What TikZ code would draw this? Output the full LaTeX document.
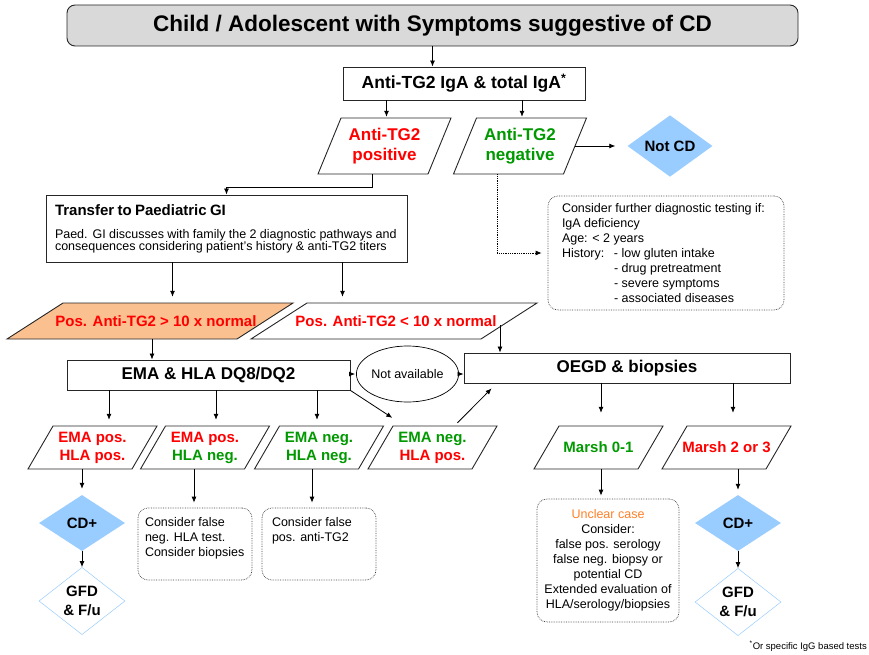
\documentclass[tikz,border=0pt]{standalone}
\usepackage{fontspec}
\setmainfont{Liberation Sans}
\usetikzlibrary{calc}
\usetikzlibrary{shapes.geometric,arrows.meta}

\definecolor{cdblue}{RGB}{153,204,255}
\definecolor{cdorange}{RGB}{250,192,143}
\definecolor{cdred}{RGB}{255,0,0}
\definecolor{cdgreen}{RGB}{0,153,0}
\definecolor{cdgrey}{RGB}{217,217,217}
\definecolor{cdamber}{RGB}{255,128,40}

\newcommand{\fs}[2]{\fontsize{#1}{#2}\selectfont}

\tikzset{
  arr/.style={-{Latex[length=6pt,width=5pt]}, line width=0.8pt},
  box/.style={draw=black!85, line width=0.9pt, rectangle, inner sep=0pt},
  note/.style={draw=black!75, densely dotted, line width=0.7pt, rounded corners=10pt, inner sep=0pt},
  cdgem/.style={diamond, fill=cdblue, inner sep=0pt, minimum width=86pt, minimum height=56pt, font=\fs{15}{18}\bfseries},
  fugem/.style={diamond, draw=cdblue, fill=white, line width=0.5pt, inner sep=0pt, minimum width=86pt, minimum height=56pt, align=center, font=\fs{15}{19}\bfseries},
  slanttext/.style={inner sep=0pt, align=center, font=\fs{15}{18}\bfseries},
}

% slanted box: fill, name, centre, top width, height, offset, text options, text
\newcommand{\slantbox}[8][white]{%
  \draw[line width=0.9pt, draw=black!85, fill=#1] (#3) ++({-0.5*#4+0.5*#6},{-0.5*#5}) -- ++(#4,0) -- ++(-#6,#5) -- ++(-#4,0) -- cycle;
  \node[slanttext, minimum width=#4pt, minimum height=#5pt, #7] (#2) at (#3) {#8};
}

\begin{document}
\begin{tikzpicture}[x=1pt, y=-1pt]
    \useasboundingbox (0,0) rectangle (869,655);

    % Top of the chart
    \node[box, rounded corners=8pt, fill=cdgrey, minimum width=731pt, minimum height=41pt, font=\fs{22.5}{27}\bfseries] (title) at (432.5,25.5) {Child / Adolescent with Symptoms suggestive of CD};
    \node[box, minimum width=242pt, minimum height=33pt, font=\fs{17.5}{20}\bfseries] (tg) at (464,83.5) {Anti-TG2 IgA \& total IgA\textsuperscript{*}\hspace{14pt}};

    % First split on anti-TG2
    \slantbox{pos}{384.5,146}{110}{56}{23}{text=cdred, font=\fs{17}{20}\bfseries}{Anti-TG2\\positive}
    \slantbox{neg}{520,146}{110}{56}{23}{text=cdgreen, font=\fs{17}{20}\bfseries}{Anti-TG2\\negative}
    \node[cdgem, minimum width=85pt, minimum height=57pt] (notcd) at (670,146) {Not CD};

    \node[note, minimum width=236pt, minimum height=114pt] (cnote) at (666,253) {\parbox{208pt}{\fs{12.5}{15}Consider further diagnostic testing if:\\IgA deficiency\\Age: < 2 years\\\makebox[52pt][l]{History:}- low gluten intake\\\hspace*{52pt}- drug pretreatment\\\hspace*{52pt}- severe symptoms\\\hspace*{52pt}- associated diseases}};

    \node[box, minimum width=361pt, minimum height=67pt, text width=343pt, align=left] (transfer) at (226.5,228.5) {{\fs{15}{18}\bfseries Transfer to Paediatric GI}\\[7pt]\fs{12.5}{16}Paed. GI discusses with family the 2 diagnostic pathways and\\consequences considering patient's history \& anti-TG2 titers};

    % Titer levels
    \slantbox[cdorange]{high}{150,321}{230}{36}{56}{text=cdred, xshift=6pt}{Pos. Anti-TG2 > 10 x normal}
    \slantbox{low}{394,321}{230}{36}{56}{text=cdred, xshift=2pt}{Pos. Anti-TG2 < 10 x normal}

    \node[box, minimum width=283pt, minimum height=30pt, font=\fs{17}{20}\bfseries] (ema) at (208.5,375) {EMA \& HLA DQ8/DQ2};
    \node[ellipse, draw, line width=0.7pt, minimum width=79pt, minimum height=56pt, inner sep=0pt, font=\fs{12.5}{15}] (na) at (407.5,374) {Not available};
    \node[box, minimum width=326pt, minimum height=30pt, font=\fs{17}{20}\bfseries] (oegd) at (627,368) {OEGD \& biopsies};

    % Results of EMA, HLA and biopsies
    \slantbox{e1}{92.5,447.5}{104}{43}{25}{text=cdred}{EMA pos.\\HLA pos.}
    \slantbox{e2}{205,447.5}{104}{43}{25}{}{{\color{cdred}EMA pos.}\\{\color{cdgreen}HLA neg.}}
    \slantbox{e3}{319,447.5}{104}{43}{25}{text=cdgreen}{EMA neg.\\HLA neg.}
    \slantbox{e4}{432.5,447.5}{104}{43}{25}{}{{\color{cdgreen}EMA neg.}\\{\color{cdred}HLA pos.}}
    \slantbox{m01}{598.5,447.5}{104}{43}{25}{text=cdgreen}{Marsh 0-1}
    \slantbox{m23}{726.5,447.5}{104}{43}{25}{text=cdred}{Marsh 2 or 3}

    % Outcomes
    \node[cdgem] (cd1) at (82,523) {CD+};
    \node[fugem] (fu1) at (82,601) {GFD\\\& F/u};
    \node[cdgem] (cd2) at (738,523) {CD+};
    \node[fugem] (fu2) at (738,602) {GFD\\\& F/u};

    \node[note, minimum width=114pt, minimum height=72pt] (hnote) at (195,544) {\parbox[c][54pt][t]{100pt}{\raggedright\fs{12.5}{15}Consider false\\neg. HLA test.\\Consider biopsies}};
    \node[note, minimum width=114pt, minimum height=72pt] (snote) at (319,544) {\parbox[c][54pt][t]{94pt}{\raggedright\fs{12.5}{15}Consider false\\pos. anti-TG2}};
    \node[note, minimum width=142pt, minimum height=123pt] (unote) at (608,560.5) {\parbox{138pt}{\centering\fs{12.5}{15}{\color{cdamber}Unclear case}\\Consider:\\false pos. serology\\false neg. biopsy or\\potential CD\\Extended evaluation of\\HLA/serology/biopsies}};

    \node[anchor=east, inner sep=0pt, font=\fs{9.5}{11}] (foot) at (867,646) {\textsuperscript{*}Or specific IgG based tests};

    % Arrows
    \draw[arr] (title.south) -- (title.south |- tg.north);
    \draw[arr] ([xshift=2pt]pos.north |- tg.south) coordinate (a) -- ([yshift=1pt]a |- pos.north);
    \draw[arr] ([xshift=2pt]neg.north |- tg.south) coordinate (a) -- ([yshift=1pt]a |- neg.north);
    \draw[arr] (neg.east) -- ([xshift=-12pt]notcd.west);
    \draw[arr] ([xshift=-12pt]pos.south) -- ++(0,13) -| (transfer.north);
    \draw[arr, densely dotted] ([xshift=-23pt]neg.south) |- ([xshift=-6pt]cnote.west);

    \draw[arr] ([xshift=-54pt]transfer.south) coordinate (a) -- ([yshift=6pt]a |- high.north);
    \draw[arr] ([xshift=116pt]transfer.south) coordinate (a) -- ([yshift=6pt]a |- low.north);
    \draw[arr] ([xshift=-4pt]high.south) coordinate (a) -- (a |- ema.north);
    \draw[arr] ([xshift=104pt,yshift=-4pt]low.center) coordinate (a) -- (a |- oegd.north);

    \draw[arr] (ema.east |- na.west) -- ([xshift=-1pt]na.west);
    \draw[arr] (na.east) -- (na.east -| oegd.west);

    \draw[arr] ([xshift=-99.5pt]ema.south) coordinate (a) -- ([yshift=6pt]a |- e1.north);
    \draw[arr] ([xshift=7.5pt]ema.south) coordinate (a) -- ([yshift=6pt]a |- e2.north);
    \draw[arr] ([xshift=108.5pt]ema.south) coordinate (a) -- ([yshift=6pt]a |- e3.north);
    \draw[arr] (ema.south east) -- ([xshift=12pt,yshift=8pt]e4.north west);
    \draw[arr] ([xshift=25pt,yshift=3pt]e4.north) -- ([xshift=28pt,yshift=-5pt]oegd.south west);
    \draw[arr] ([xshift=-26pt]oegd.south) coordinate (a) -- ([yshift=13pt]a |- m01.north);
    \draw[arr] ([xshift=106pt]oegd.south) coordinate (a) -- ([yshift=13pt]a |- m23.north);

    \draw[arr] ([xshift=-10.5pt]e1.south) -- ([yshift=6pt]cd1.north);
    \draw[arr] (cd1.south) -- (fu1.north);
    \draw[arr] ([xshift=-11pt]e2.south) coordinate (a) -- ([yshift=5pt]a |- hnote.north);
    \draw[arr] ([xshift=-7pt]e3.south) coordinate (a) -- ([yshift=5pt]a |- snote.north);
    \draw[arr] ([xshift=2.5pt]m01.south) coordinate (a) -- ([yshift=3pt]a |- unote.north);
    \draw[arr] ([xshift=11.5pt]m23.south) coordinate (a) -- ([yshift=5pt]a |- cd2.north);
    \draw[arr] (cd2.south) -- (fu2.north);

\end{tikzpicture}
\end{document}
